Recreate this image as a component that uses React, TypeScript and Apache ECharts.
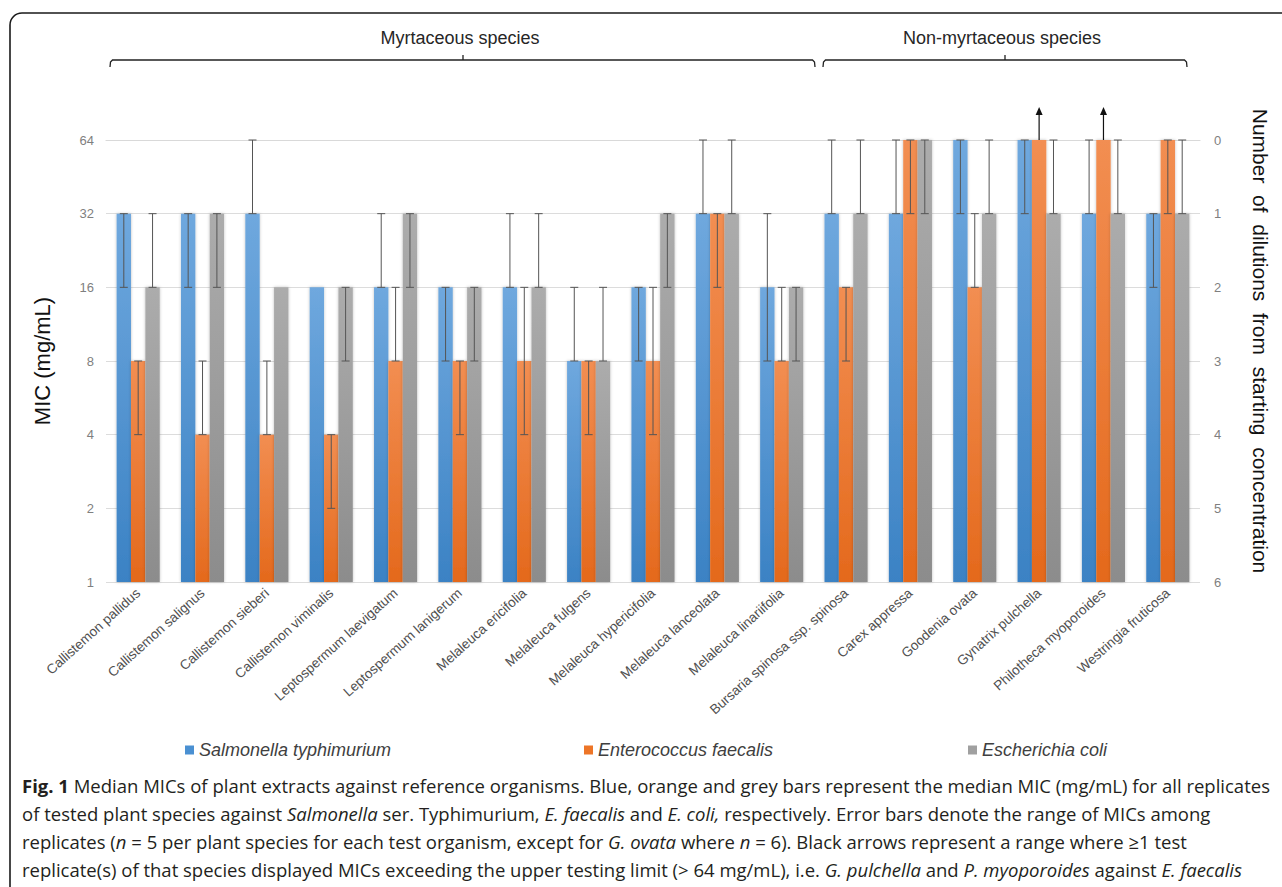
import React, { useEffect, useRef } from 'react';
import * as echarts from 'echarts';

const categories = [
  'Callistemon pallidus',
  'Callistemon salignus',
  'Callistemon sieberi',
  'Callistemon viminalis',
  'Leptospermum laevigatum',
  'Leptospermum lanigerum',
  'Melaleuca ericifolia',
  'Melaleuca fulgens',
  'Melaleuca hypericifolia',
  'Melaleuca lanceolata',
  'Melaleuca linariifolia',
  'Bursaria spinosa ssp. spinosa',
  'Carex appressa',
  'Goodenia ovata',
  'Gynatrix pulchella',
  'Philotheca myoporoides',
  'Westringia fruticosa',
];

const seriesNames = ['Salmonella typhimurium', 'Enterococcus faecalis', 'Escherichia coli'];

// Median MIC (mg/mL)
const salmonella = [32, 32, 32, 16, 16, 16, 16, 8, 16, 32, 16, 32, 32, 64, 64, 32, 32];
const salmonellaLow = [16, 16, 32, 16, 16, 8, 16, 8, 8, 32, 8, 32, 32, 32, 32, 32, 16];
const salmonellaHigh = [32, 32, 64, 16, 32, 16, 32, 16, 16, 64, 32, 64, 64, 64, 64, 64, 32];

const faecalis = [8, 4, 4, 4, 8, 8, 8, 8, 8, 32, 8, 16, 64, 16, 64, 64, 64];
const faecalisLow = [4, 4, 4, 2, 8, 4, 4, 4, 4, 16, 8, 8, 32, 16, 64, 64, 32];
const faecalisHigh = [8, 8, 8, 4, 16, 8, 16, 8, 16, 32, 16, 16, 64, 32, 64, 64, 64];
const faecalisExceeds = [0, 0, 0, 0, 0, 0, 0, 0, 0, 0, 0, 0, 0, 0, 1, 1, 0];

const coli = [16, 32, 16, 16, 32, 16, 16, 8, 32, 32, 16, 32, 64, 32, 32, 32, 32];
const coliLow = [16, 16, 16, 8, 16, 8, 16, 8, 16, 32, 8, 32, 32, 32, 32, 32, 32];
const coliHigh = [32, 32, 16, 16, 32, 16, 32, 16, 32, 64, 16, 64, 64, 64, 64, 64, 64];

const micTicks = [1, 2, 4, 8, 16, 32, 64];
const dilutionTicks = [0, 1, 2, 3, 4, 5, 6];

const groupLabels = ['Myrtaceous species', 'Non-myrtaceous species'];
const rightTitle = 'Number  of  dilutions  from  starting  concentration';

const FONT = '"Liberation Sans", Arial, sans-serif';
const CAP_FONT = '"Open Sans", "Noto Sans", sans-serif';
const GAP = 0.33;

export default function App() {
  const ref = useRef<HTMLDivElement>(null);

  useEffect(() => {
    const chart = echarts.init(ref.current!, null, { renderer: 'svg' });

    const grad = (top: string, bottom: string) =>
      new echarts.graphic.LinearGradient(0, 0, 0, 1, [
        { offset: 0, color: top },
        { offset: 1, color: bottom },
      ]);

    const fills = [
      grad('#6fa8de', '#3b82c4'),
      grad('#f28e52', '#e4691c'),
      grad('#acacac', '#8c8c8c'),
    ];
    const solid = ['#4a90d2', '#ed7527', '#a0a0a0'];

    const medians = [salmonella, faecalis, coli];
    const lows = [salmonellaLow, faecalisLow, coliLow];
    const highs = [salmonellaHigh, faecalisHigh, coliHigh];
    const exceeds = [categories.map(() => 0), faecalisExceeds, categories.map(() => 0)];

    const barSeries = seriesNames.map((name, s) => ({
      name,
      type: 'bar',
      data: medians[s],
      barGap: '0%',
      barCategoryGap: GAP * 100 + '%',
      itemStyle: {
        color: fills[s],
        shadowBlur: 3,
        shadowColor: 'rgba(0,0,0,0.25)',
      },
      z: 2,
    }));

    const errorSeries = seriesNames.map((name, s) => ({
      name: name + ' range',
      type: 'custom',
      clip: false,
      z: 5,
      encode: { x: 0, y: [1, 2] },
      data: categories.map((_, i) => [i, lows[s][i], highs[s][i], exceeds[s][i]]),
      renderItem: (params: any, api: any) => {
        const i = api.value(0);
        const lo = api.value(1);
        const hi = api.value(2);
        const arrow = api.value(3);
        const cw = api.coord([1, 1])[0] - api.coord([0, 1])[0];
        const bw = (cw * (1 - GAP)) / 3;
        const x = api.coord([i, 1])[0] + (s - 1) * bw;
        const yLo = api.coord([i, lo])[1];
        const yHi = api.coord([i, hi])[1];
        const st = { stroke: '#555555', lineWidth: 1 };
        const children: any[] = [];
        if (hi > lo) {
          children.push({ type: 'line', shape: { x1: x, y1: yHi, x2: x, y2: yLo }, style: st });
          children.push({ type: 'line', shape: { x1: x - 4, y1: yHi, x2: x + 4, y2: yHi }, style: st });
          children.push({ type: 'line', shape: { x1: x - 4, y1: yLo, x2: x + 4, y2: yLo }, style: st });
        }
        if (arrow) {
          children.push({ type: 'line', shape: { x1: x, y1: yHi, x2: x, y2: yHi - 26 }, style: { stroke: '#111', lineWidth: 1.2 } });
          children.push({
            type: 'polygon',
            shape: { points: [[x - 3.5, yHi - 25], [x + 3.5, yHi - 25], [x, yHi - 33]] },
            style: { fill: '#111' },
          });
        }
        return { type: 'group', children };
      },
    }));

    const legendStyle = {
      fontSize: 18,
      fontStyle: 'italic',
      color: '#404040',
      fontFamily: FONT,
    };
    const legendLefts = [185, 584, 968];

    const bracket = (x1: number, x2: number, xc: number) => ({
      type: 'polyline',
      shape: {
        points: [
          [x1, 67], [x1 + 0.5, 62], [x1 + 2.5, 60], [xc, 60], [xc, 55], [xc, 60],
          [x2 - 2.5, 60], [x2 - 0.5, 62], [x2, 67],
        ],
      },
      style: { stroke: '#222', lineWidth: 1.3, fill: null },
    });

    const capBase = { fontSize: 18.5, fontFamily: CAP_FONT, fill: '#231f20' };
    const capRich = {
      b: { ...capBase, fontWeight: 'bold' },
      i: { ...capBase, fontStyle: 'italic' },
      r: { ...capBase },
    };
    const captionLines = [
      '{b|Fig. 1}{r| Median MICs of plant extracts against reference organisms. Blue, orange and grey bars represent the median MIC (mg/mL) for all replicates}',
      '{r|of tested plant species against }{i|Salmonella}{r| ser. Typhimurium, }{i|E. faecalis}{r| and }{i|E. coli,}{r| respectively. Error bars denote the range of MICs among}',
      '{r|replicates (}{i|n}{r| = 5 per plant species for each test organism, except for }{i|G. ovata}{r| where }{i|n}{r| = 6). Black arrows represent a range where ≥1 test}',
      '{r|replicate(s) of that species displayed MICs exceeding the upper testing limit (> 64 mg/mL), i.e. }{i|G. pulchella}{r| and }{i|P. myoporoides}{r| against }{i|E. faecalis}',
    ];
    const captionYs = [785, 813, 841, 869];

    const option: any = {
      animation: false,
      backgroundColor: '#ffffff',
      textStyle: { fontFamily: FONT },
      grid: { left: 106, right: 82, top: 140, bottom: 305 },
      legend: seriesNames.map((n, s) => ({
        data: [{ name: n, itemStyle: { color: solid[s] } }],
        left: legendLefts[s],
        top: 741,
        padding: 0,
        itemWidth: 9,
        itemHeight: 9,
        itemGap: 6,
        icon: 'rect',
        selectedMode: false,
        textStyle: legendStyle,
      })),
      xAxis: {
        type: 'category',
        data: categories,
        axisLine: { lineStyle: { color: '#d9d9d9', width: 1.2 } },
        axisTick: { show: false },
        axisLabel: {
          interval: 0,
          rotate: 42,
          margin: 9,
          fontSize: 13.6,
          color: '#505050',
          fontFamily: FONT,
        },
      },
      yAxis: [
        {
          type: 'log',
          logBase: 2,
          min: micTicks[0],
          max: micTicks[micTicks.length - 1],
          splitNumber: 6,
          name: 'MIC (mg/mL)',
          nameLocation: 'middle',
          nameRotate: 90,
          nameGap: 53,
          nameTextStyle: { fontSize: 22, color: '#111', fontFamily: FONT },
          axisLine: { show: false },
          axisTick: { show: false },
          axisLabel: { color: '#7f7f7f', fontSize: 13, margin: 12, fontFamily: FONT },
          splitLine: { lineStyle: { color: '#dcdcdc', width: 1 } },
        },
        {
          type: 'value',
          position: 'right',
          inverse: true,
          min: dilutionTicks[0],
          max: dilutionTicks[dilutionTicks.length - 1],
          interval: 1,
          axisLine: { show: false },
          axisTick: { show: false },
          splitLine: { show: false },
          axisLabel: { color: '#7f7f7f', fontSize: 13, margin: 14, fontFamily: FONT },
        },
      ],
      series: [...barSeries, ...errorSeries],
      graphic: [
        {
          type: 'rect',
          shape: { x: 10, y: 13, width: 1300, height: 900, r: 12 },
          style: { fill: null, stroke: '#1a1a1a', lineWidth: 1.6 },
          silent: true,
        },
        bracket(110, 815, 463),
        bracket(823, 1187, 1005),
        {
          type: 'text',
          x: 460,
          y: 38,
          style: { text: groupLabels[0], fontSize: 18, fontFamily: FONT, fill: '#262626', align: 'center', verticalAlign: 'middle' },
        },
        {
          type: 'text',
          x: 1002,
          y: 38,
          style: { text: groupLabels[1], fontSize: 18, fontFamily: FONT, fill: '#262626', align: 'center', verticalAlign: 'middle' },
        },
        {
          type: 'text',
          x: 1260,
          y: 341,
          rotation: -Math.PI / 2,
          style: { text: rightTitle, fontSize: 21, fontFamily: FONT, fill: '#111', align: 'center', verticalAlign: 'middle' },
        },
        ...captionLines.map((t, k) => ({
          type: 'text',
          x: 22,
          y: captionYs[k],
          style: { text: t, rich: capRich, ...capBase, align: 'left', verticalAlign: 'middle' },
        })),
      ],
    };

    chart.setOption(option);
    return () => chart.dispose();
  }, []);

  return (
    <div
      ref={ref}
      style={{ position: 'fixed', left: 0, top: 0, width: 1282, height: 887, background: '#fff' }}
    />
  );
}
